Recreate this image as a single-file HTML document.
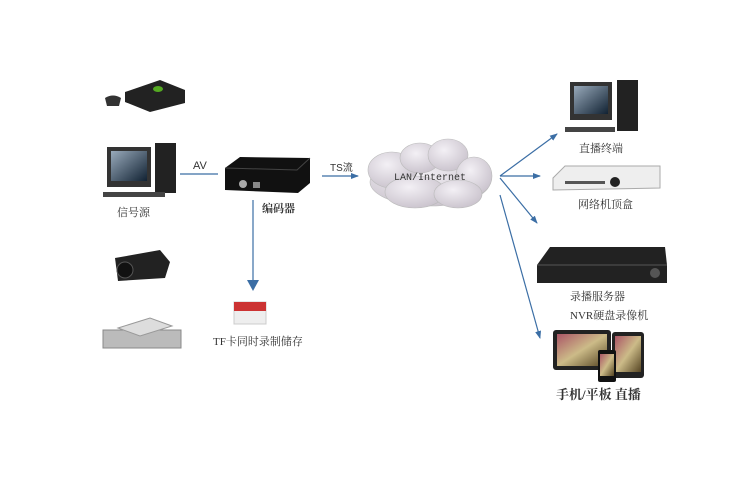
<!DOCTYPE html>
<html><head><meta charset="utf-8"><style>
body{margin:0;background:#fff}
svg text{font-family:"Liberation Serif","Noto Serif CJK SC",serif;fill:#333}
svg text.s{font-family:"Liberation Sans","Noto Sans CJK SC",sans-serif}
svg text.m{font-family:"Liberation Mono",monospace}
</style></head><body>
<svg width="751" height="477" viewBox="0 0 751 477" xmlns="http://www.w3.org/2000/svg">
<defs>
<radialGradient id="cl" cx="40%" cy="35%" r="70%"><stop offset="0" stop-color="#f3f0f5"/><stop offset="1" stop-color="#c9c2cc"/></radialGradient>
<linearGradient id="scr" x1="0" y1="0" x2="1" y2="1"><stop offset="0" stop-color="#9ab"/><stop offset="1" stop-color="#123"/></linearGradient>
<linearGradient id="img" x1="0" y1="0" x2="1" y2="1"><stop offset="0" stop-color="#a56"/><stop offset=".5" stop-color="#cb8"/><stop offset="1" stop-color="#542"/></linearGradient>
<marker id="ah" markerWidth="8" markerHeight="8" refX="7" refY="4" orient="auto" markerUnits="userSpaceOnUse"><path d="M0,1 L8,4 L0,7z" fill="#3b6ea5"/></marker>
</defs>
<!-- xbox -->
<path d="M125,92 L160,80 L185,90 L185,103 L150,112 L125,102z" fill="#222"/>
<ellipse cx="158" cy="89" rx="5" ry="3" fill="#5a2"/>
<path d="M105,98 q8,-5 16,0 l-2,8 -12,0z" fill="#333"/>
<!-- left computer -->
<rect x="107" y="147" width="44" height="40" fill="#333"/><rect x="111" y="151" width="36" height="30" fill="url(#scr)"/>
<rect x="155" y="143" width="21" height="50" fill="#222"/>
<rect x="103" y="192" width="62" height="5" fill="#444"/>
<text x="117" y="216" font-size="11">信号源</text>
<!-- AV -->
<line x1="180" y1="174" x2="218" y2="174" stroke="#3b6ea5" stroke-width="1.2"/>
<text class="s" x="193" y="169" font-size="11">AV</text>
<!-- encoder -->
<path d="M225,168 L240,157 L310,158 L310,183 L298,193 L225,190z" fill="#111"/>
<path d="M225,168 L297,170 L310,158" stroke="#444" fill="none"/>
<circle cx="243" cy="184" r="4" fill="#aaa"/><rect x="253" y="182" width="7" height="6" fill="#888"/>
<text x="262" y="212" font-size="11" font-weight="bold">编码器</text>
<line x1="253" y1="200" x2="253" y2="282" stroke="#3b6ea5" stroke-width="1.2"/>
<path d="M247,280 L259,280 L253,291z" fill="#3b6ea5"/>
<!-- TF -->
<rect x="234" y="302" width="32" height="22" fill="#eee" stroke="#ccc"/><rect x="234" y="302" width="32" height="9" fill="#c33"/>
<text x="213" y="345" font-size="11">TF卡同时录制储存</text>
<!-- camera -->
<path d="M115,258 L160,250 L170,262 L165,278 L118,281z" fill="#222"/><circle cx="125" cy="270" r="8" fill="#111" stroke="#555"/>
<!-- left STB -->
<rect x="103" y="330" width="78" height="18" fill="#bbb" stroke="#888"/>
<path d="M118,328 L150,318 L172,326 L140,336z" fill="#ddd" stroke="#999"/>
<!-- TS -->
<line x1="322" y1="176" x2="358" y2="176" stroke="#3b6ea5" stroke-width="1.2" marker-end="url(#ah)"/>
<text class="s" x="330" y="171" font-size="10">TS流</text>
<!-- cloud -->
<g fill="url(#cl)" stroke="#bbb" stroke-width=".6">
<ellipse cx="430" cy="182" rx="60" ry="24"/><ellipse cx="392" cy="170" rx="24" ry="18"/><ellipse cx="420" cy="158" rx="20" ry="15"/><ellipse cx="448" cy="155" rx="20" ry="16"/>
<ellipse cx="474" cy="176" rx="18" ry="19"/><ellipse cx="415" cy="192" rx="30" ry="16"/><ellipse cx="458" cy="194" rx="24" ry="14"/>
</g>
<text class="m" x="394" y="180" font-size="10" fill="#222">LAN/Internet</text>
<!-- out arrows -->
<g stroke="#3b6ea5" stroke-width="1.2" marker-end="url(#ah)">
<line x1="500" y1="176" x2="557" y2="134"/><line x1="500" y1="176" x2="540" y2="176"/>
<line x1="500" y1="178" x2="537" y2="223"/><line x1="500" y1="195" x2="540" y2="338"/>
</g>
<!-- right computer -->
<rect x="570" y="82" width="42" height="38" fill="#333"/><rect x="574" y="86" width="34" height="28" fill="url(#scr)"/>
<rect x="617" y="80" width="21" height="51" fill="#222"/><rect x="565" y="127" width="50" height="5" fill="#444"/>
<text x="579" y="152" font-size="11">直播终端</text>
<!-- right STB -->
<path d="M553,178 L565,166 L660,166 L660,188 L553,190z" fill="#eee" stroke="#aaa"/>
<circle cx="615" cy="182" r="5" fill="#222"/><rect x="565" y="181" width="40" height="3" fill="#555"/>
<text x="578" y="208" font-size="11">网络机顶盒</text>
<!-- DVR -->
<path d="M537,265 L550,247 L665,247 L667,265 L667,283 L537,283z" fill="#222"/>
<path d="M537,265 L667,265" stroke="#555"/><circle cx="655" cy="273" r="5" fill="#555"/>
<text x="570" y="300" font-size="11">录播服务器</text>
<text x="570" y="319" font-size="11">NVR硬盘录像机</text>
<!-- tablets -->
<rect x="553" y="330" width="58" height="40" rx="3" fill="#222"/><rect x="557" y="334" width="50" height="32" fill="url(#img)"/>
<rect x="612" y="332" width="32" height="46" rx="3" fill="#222"/><rect x="615" y="336" width="26" height="36" fill="url(#img)"/>
<rect x="598" y="350" width="18" height="32" rx="2" fill="#111"/><rect x="600" y="354" width="14" height="22" fill="url(#img)"/>
<text x="556" y="399" font-size="13" font-weight="bold" fill="#111">手机/平板 直播</text>
</svg>
</body></html>
